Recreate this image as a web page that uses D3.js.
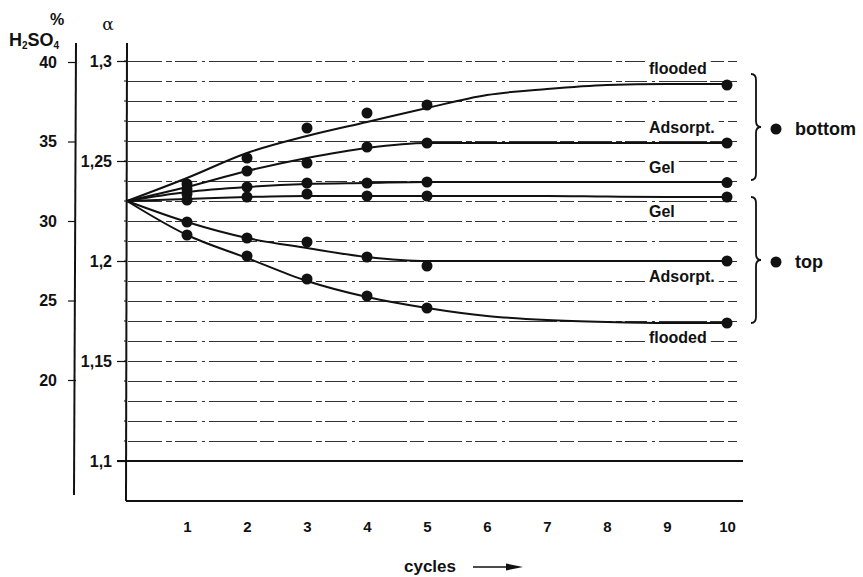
<!DOCTYPE html>
<html>
<head>
<meta charset="utf-8">
<script src="https://cdn.jsdelivr.net/npm/d3@7/dist/d3.min.js"></script>
<style>
  html, body { margin: 0; padding: 0; background: #fff; }
  svg { display: block; }
  text { font-family: "Liberation Sans", Arial, Helvetica, sans-serif; font-weight: bold; fill: #111; }
</style>
</head>
<body>
<svg id="chart" width="863" height="577"></svg>
<script>
// ---- data -------------------------------------------------------------
// cycles at which the fitted curves are drawn
const curveCycles = [0, 1, 2, 3, 4, 5, 6, 7, 8, 9, 10];
// cycles at which acid density was measured
const dotCycles = [1, 2, 3, 4, 5, 10];

// fitted curves, acid density (alpha)
const bottomFloodedFit  = [1.230, 1.2415, 1.254, 1.2625, 1.2695, 1.2765, 1.283, 1.286, 1.288, 1.2885, 1.2885];
const bottomAdsorptFit  = [1.230, 1.237, 1.245, 1.2515, 1.2565, 1.259, 1.259, 1.259, 1.259, 1.259, 1.259];
const bottomGelFit      = [1.230, 1.2345, 1.237, 1.2385, 1.239, 1.2395, 1.2395, 1.2395, 1.2395, 1.2395, 1.2395];
const topGelFit         = [1.230, 1.231, 1.232, 1.2325, 1.2325, 1.2325, 1.2325, 1.2325, 1.2322, 1.232, 1.232];
const topAdsorptFit     = [1.230, 1.2195, 1.2115, 1.2065, 1.202, 1.200, 1.200, 1.200, 1.200, 1.200, 1.200];
const topFloodedFit     = [1.230, 1.213, 1.2015, 1.190, 1.182, 1.1765, 1.1725, 1.1705, 1.1695, 1.169, 1.169];

// measured points, acid density (alpha)
const bottomFloodedDots = [1.2385, 1.2515, 1.2665, 1.274, 1.278, 1.288];
const bottomAdsorptDots = [1.236, 1.245, 1.249, 1.257, 1.259, 1.259];
const bottomGelDots     = [1.2335, 1.237, 1.239, 1.239, 1.2395, 1.2392];
const topGelDots        = [1.2305, 1.232, 1.2335, 1.2325, 1.2325, 1.232];
const topAdsorptDots    = [1.2195, 1.2115, 1.2095, 1.202, 1.1975, 1.200];
const topFloodedDots    = [1.213, 1.2025, 1.191, 1.1825, 1.1765, 1.169];

const seriesNames = ["flooded", "Adsorpt.", "Gel", "Gel", "Adsorpt.", "flooded"];
const groupNames = ["bottom", "top"];

// axis ticks
const xTickValues = [1, 2, 3, 4, 5, 6, 7, 8, 9, 10];
const alphaTicks = [1.1, 1.15, 1.2, 1.25, 1.3];
const alphaTickLabels = ["1,1", "1,15", "1,2", "1,25", "1,3"];
const acidTicks = [20, 25, 30, 35, 40];
const acidTickLabels = ["20", "25", "30", "35", "40"];

// ---- layout -----------------------------------------------------------
const svg = d3.select("#chart");
const ink = "#111";

const x = d3.scaleLinear().domain([0, 10]).range([127, 727]);
const yA = d3.scaleLinear().domain([1.1, 1.3]).range([461, 61]);   // density
const yP = d3.scaleLinear().domain([20, 40]).range([380, 62]);     // % H2SO4

const plotTop = 43, plotBottom = 501, plotRight = 743;

// dashed density grid every 0.01
const grid = svg.append("g").attr("transform", "translate(0,0.5)");
yA.ticks(20).filter(v => v > 1.1 + 1e-9).forEach(v => {
  grid.append("line")
    .attr("x1", x(0) + 1).attr("x2", plotRight - 6)
    .attr("y1", yA(v)).attr("y2", yA(v))
    .attr("stroke", "#333").attr("stroke-width", 1)
    .attr("stroke-dasharray", "34,4,6,3,22,5,3,4,48,3,14,4");
});
// solid 1,1 line
svg.append("line")
  .attr("x1", x(0) - 10).attr("x2", plotRight)
  .attr("y1", yA(1.1)).attr("y2", yA(1.1))
  .attr("stroke", ink).attr("stroke-width", 1.8);

// frame: density axis and base line
svg.append("line").attr("x1", x(0)).attr("x2", x(0) - 1)
  .attr("y1", plotTop).attr("y2", plotBottom)
  .attr("stroke", ink).attr("stroke-width", 2);
svg.append("line").attr("x1", x(0) - 1).attr("x2", plotRight)
  .attr("y1", plotBottom).attr("y2", plotBottom)
  .attr("stroke", ink).attr("stroke-width", 2);

// acid percentage axis
svg.append("line").attr("x1", 76).attr("x2", 74)
  .attr("y1", plotTop).attr("y2", 495)
  .attr("stroke", ink).attr("stroke-width", 2);

const acidAxis = d3.axisLeft(yP).tickValues(acidTicks)
  .tickFormat((d, i) => acidTickLabels[i]).tickSize(8).tickPadding(11);
const ga = svg.append("g").attr("transform", "translate(76,0)").call(acidAxis);
ga.select(".domain").remove();
ga.selectAll("line").attr("stroke", ink).attr("stroke-width", 1.2);
ga.selectAll("text").style("font-size", "16px").attr("fill", ink);

const alphaAxis = d3.axisLeft(yA).tickValues(alphaTicks)
  .tickFormat((d, i) => alphaTickLabels[i]).tickSize(10).tickPadding(5);
const gd = svg.append("g").attr("transform", `translate(${x(0)},0)`).call(alphaAxis);
gd.select(".domain").remove();
gd.selectAll("line").attr("stroke", ink).attr("stroke-width", 1.2);
gd.selectAll("text").style("font-size", "16px").attr("fill", ink);

// small marks on the density axis
yA.ticks(20).forEach(v => {
  svg.append("line").attr("x1", x(0) - 3).attr("x2", x(0))
    .attr("y1", yA(v)).attr("y2", yA(v))
    .attr("stroke", ink).attr("stroke-width", 1);
});

const xAxis = d3.axisBottom(x).tickValues(xTickValues).tickSize(0).tickPadding(20);
const gx = svg.append("g").attr("transform", `translate(0,${plotBottom})`).call(xAxis);
gx.select(".domain").remove();
gx.selectAll("text").style("font-size", "15px").attr("fill", ink);

// axis titles
svg.append("text").attr("x", 57).attr("y", 25).attr("text-anchor", "middle")
  .style("font-size", "16px").text("%");
const h2so4 = svg.append("text").attr("x", 9).attr("y", 46).style("font-size", "18px");
h2so4.append("tspan").text("H");
h2so4.append("tspan").attr("dy", 3).style("font-size", "10px").text("2");
h2so4.append("tspan").attr("dy", -3).text("SO");
h2so4.append("tspan").attr("dy", 3).style("font-size", "10px").text("4");
svg.append("text").attr("x", 108).attr("y", 30).attr("text-anchor", "middle")
  .style("font-family", "'DejaVu Serif', serif").style("font-weight", "normal")
  .style("font-size", "17px").text("α");

svg.append("text").attr("x", 430).attr("y", 572).attr("text-anchor", "middle")
  .style("font-size", "17px").text("cycles");
svg.append("line").attr("x1", 473).attr("x2", 510).attr("y1", 567).attr("y2", 567)
  .attr("stroke", ink).attr("stroke-width", 1.6);
svg.append("path").attr("d", "M506,563.5 L523,567 L506,570.5 Z").attr("fill", ink);

// ---- curves and points --------------------------------------------------
const fits = [bottomFloodedFit, bottomAdsorptFit, bottomGelFit, topGelFit, topAdsorptFit, topFloodedFit];
const dots = [bottomFloodedDots, bottomAdsorptDots, bottomGelDots, topGelDots, topAdsorptDots, topFloodedDots];

const line = d3.line()
  .x((d, i) => x(curveCycles[i]))
  .y(d => yA(d))
  .curve(d3.curveMonotoneX);

// series labels, knocking out the grid behind them
const labelOffsets = [-10, -10, -9, 20, 21, 20];
const labels = svg.append("g");
seriesNames.forEach((name, k) => {
  const last = fits[k][fits[k].length - 1];
  const t = labels.append("text")
    .attr("x", x(8.7)).attr("y", yA(last) + labelOffsets[k])
    .style("font-size", "16px").text(name);
  const b = t.node().getBBox();
  labels.insert("rect", "text")
    .attr("x", b.x - 4).attr("y", b.y + 1).attr("width", b.width + 8).attr("height", b.height - 2)
    .attr("fill", "#fff");
});

const curves = svg.append("g");
fits.forEach(f => {
  curves.append("path").datum(f).attr("d", line)
    .attr("fill", "none").attr("stroke", ink).attr("stroke-width", 2);
});
dots.forEach(arr => {
  curves.selectAll(null).data(arr).enter().append("circle")
    .attr("cx", (d, i) => x(dotCycles[i]))
    .attr("cy", d => yA(d))
    .attr("r", 5.5).attr("fill", ink);
});

// ---- group braces -------------------------------------------------------
function brace(y0, y1, x0) {
  const w = 5, r = 6, ym = (y0 + y1) / 2;
  return `M${x0},${y0} Q${x0 + w},${y0} ${x0 + w},${y0 + r} L${x0 + w},${ym - r} ` +
         `Q${x0 + w},${ym} ${x0 + 2 * w},${ym} Q${x0 + w},${ym} ${x0 + w},${ym + r} ` +
         `L${x0 + w},${y1 - r} Q${x0 + w},${y1} ${x0},${y1}`;
}
const groups = [
  { top: yA(bottomFloodedFit[10]) - 10, bottom: yA(bottomGelFit[10]) - 2 },
  { top: yA(topGelFit[10]), bottom: yA(topFloodedFit[10]) }
];
groups.forEach((g, k) => {
  svg.append("path").attr("d", brace(g.top, g.bottom, 751))
    .attr("fill", "none").attr("stroke", ink).attr("stroke-width", 1.8);
  const ym = (g.top + g.bottom) / 2;
  svg.append("circle").attr("cx", 776).attr("cy", ym + 2).attr("r", 5.5).attr("fill", ink);
  svg.append("text").attr("x", 795).attr("y", ym + 8)
    .style("font-size", "18px").text(groupNames[k]);
});
</script>
</body>
</html>
